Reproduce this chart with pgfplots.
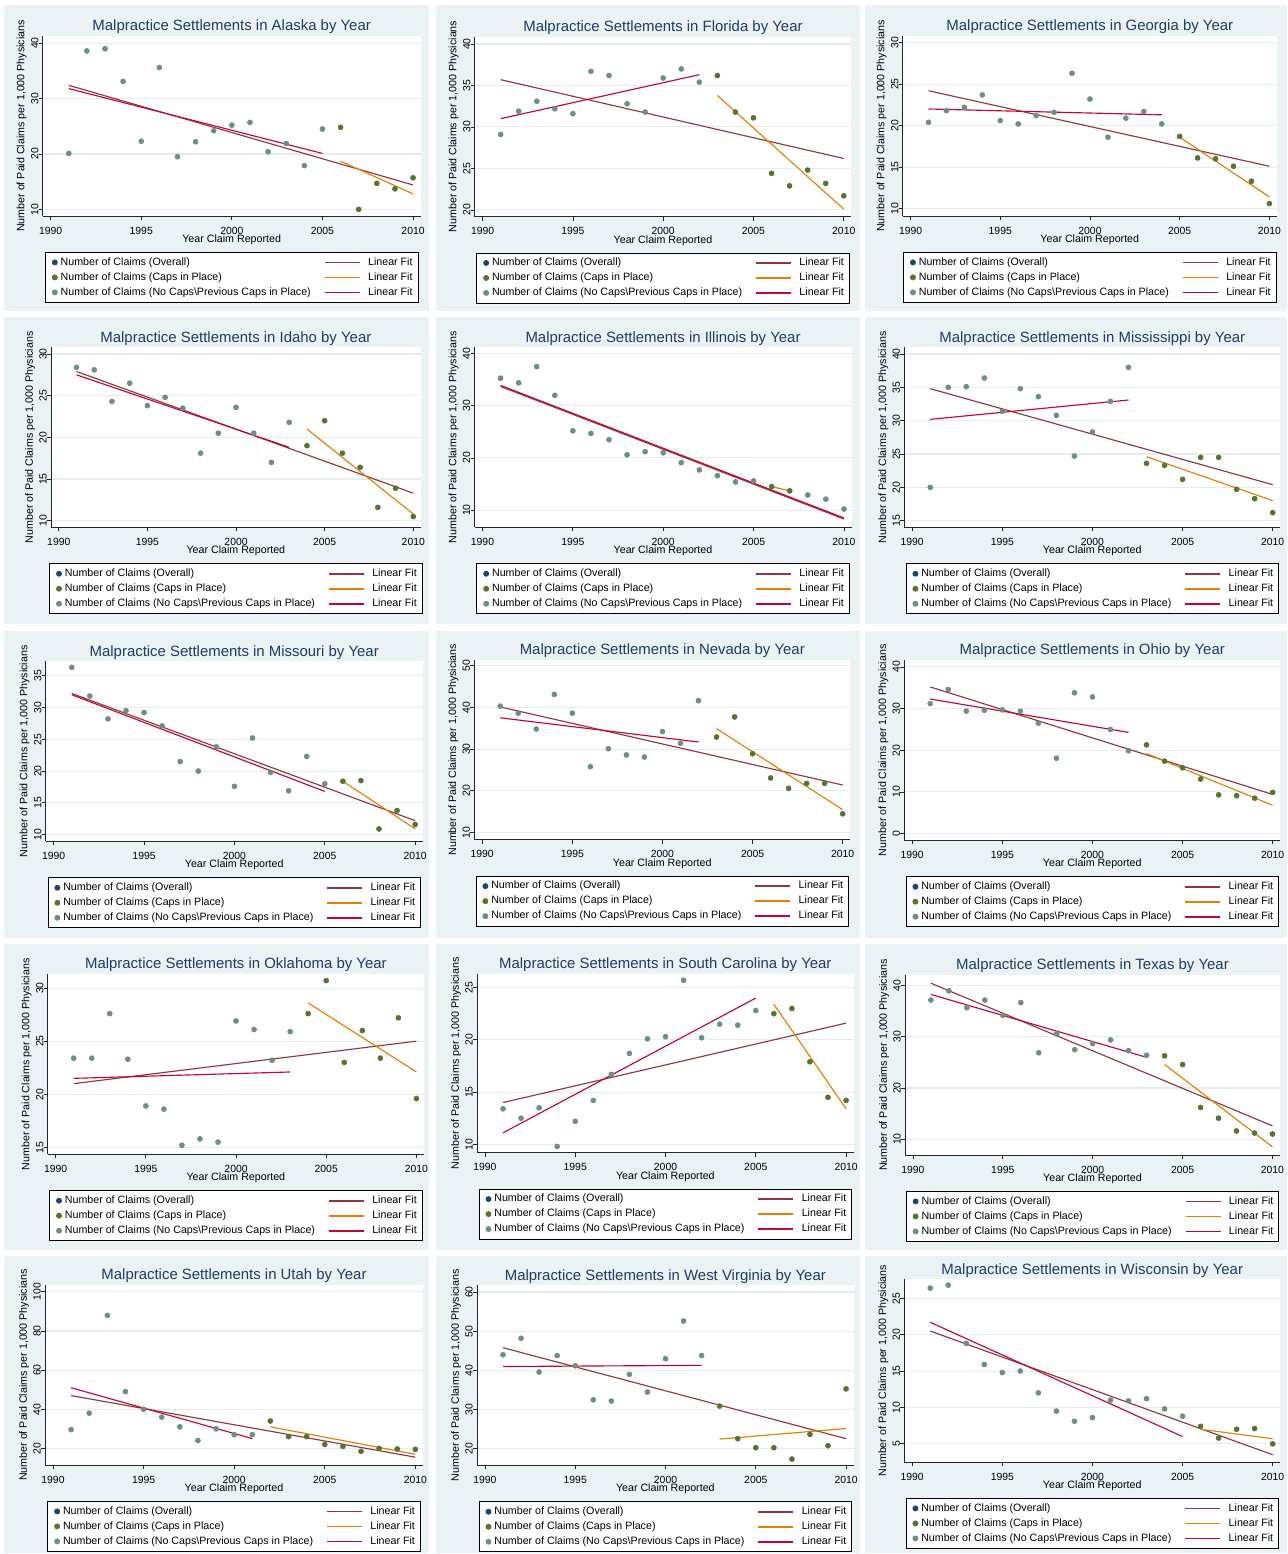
\documentclass[border=0pt]{standalone}
\usepackage{fontspec}
\setmainfont{Liberation Sans}
\usepackage{pgfplots}
\pgfplotsset{compat=1.18}
\definecolor{bgc}{HTML}{EAF2F3}
\definecolor{gridc}{HTML}{E4ECEE}
\definecolor{titlec}{HTML}{1F3B6B}
\definecolor{navyc}{RGB}{26,71,111}
\definecolor{maroonc}{RGB}{144,53,59}
\definecolor{forestc}{RGB}{85,117,47}
\definecolor{dkorangec}{RGB}{227,126,0}
\definecolor{tealc}{RGB}{110,142,132}
\definecolor{cranc}{RGB}{193,5,52}
\newcommand\titlefont{\fontsize{11.2}{13}\selectfont}
\newcommand\labfont{\fontsize{8}{9.6}\selectfont}
\newcommand\tickfont{\fontsize{7.8}{9.4}\selectfont}
\newcommand\legfont{\fontsize{8}{9.6}\selectfont}
\pgfplotsset{
 panel/.style={
  scale only axis, anchor=south west,
  xmin=1989.56, xmax=2010.42,
  xtick={1990,1995,2000,2005,2010},
  axis x line*=bottom, axis y line*=left,
  axis line style={-, draw=black!85, line width=0.6pt},
  tick align=outside, major tick length=3pt,
  tick style={draw=black!85, line width=0.6pt},
  ymajorgrids, grid style={draw=gridc, line width=0.8pt},
  axis background/.style={fill=white},
  /pgf/number format/assume math mode=true,
  /pgf/number format/set thousands separator={},
  xticklabel style={font=\tickfont, anchor=base, yshift=-10.5pt, inner sep=0pt},
  yticklabel style={font=\tickfont, xshift=-0.3pt, rotate=90, anchor=base, inner sep=0pt},
  every axis title/.style={at={(axis description cs:0.5,1)}, anchor=base, yshift=4pt, font=\titlefont, text=titlec},
  xlabel={Year Claim Reported},
  every axis x label/.style={at={(axis description cs:0.5,0)}, anchor=base, yshift=-19.9pt, font=\labfont},
  ylabel={Number of Paid Claims per 1,000 Physicians},
  every axis y label/.style={at={([xshift=-15.75pt]axis description cs:0,0.5)}, rotate=90, anchor=center, font=\labfont},
  legend columns=2, legend cell align=left,
  legend style={at={(axis description cs:0.5,0)}, anchor=north, yshift=-27pt, draw=black, line width=0.6pt, fill=white, font=\legfont, inner xsep=1.5pt, inner ysep=3.25pt, row sep=2.75pt, nodes={inner xsep=2.5pt, inner ysep=0.5pt, text height=5.8pt, text depth=1.7pt}, /tikz/column 2/.style={column sep=7.3pt}},
 },
 ptO/.style={only marks, mark=*, mark size=1.9pt, color=navyc, legend image code/.code={\path (-5.25pt,0pt); \draw plot coordinates {(0pt,0pt)};}},
 ptC/.style={only marks, mark=*, mark size=1.9pt, color=forestc, legend image code/.code={\path (-5.25pt,0pt); \draw plot coordinates {(0pt,0pt)};}},
 ptN/.style={only marks, mark=*, mark size=1.9pt, color=tealc, legend image code/.code={\path (-5.25pt,0pt); \draw plot coordinates {(0pt,0pt)};}},
 fitO/.style={no marks, color=maroonc, line width=0.85pt, legend image code/.code={\draw[maroonc, line width=1.25pt] (0pt,0pt)--(26.25pt,0pt); \path (29.6pt,0pt);}},
 fitC/.style={no marks, color=dkorangec, line width=0.85pt, legend image code/.code={\draw[dkorangec, line width=1.25pt] (0pt,0pt)--(26.25pt,0pt); \path (29.6pt,0pt);}},
 fitN/.style={no marks, color=cranc, line width=0.85pt, legend image code/.code={\draw[cranc, line width=1.25pt] (0pt,0pt)--(26.25pt,0pt); \path (29.6pt,0pt);}},
}
\newcommand\LO{\addlegendimage{ptO}\addlegendentry{Number of Claims (Overall)}}
\newcommand\LFO{\addlegendentry{Linear Fit}}
\newcommand\LC{\addlegendentry{Number of Claims (Caps in Place)}}
\newcommand\LN{\addlegendentry{Number of Claims (No Caps\textbackslash Previous Caps in Place)}}
\begin{document}
\begin{tikzpicture}
\path[use as bounding box] (0,0) rectangle (966pt,-1165.5pt);
\fill[white] (0,0) rectangle (966pt,-1165.5pt);
\foreach \xa/\xb in {3/321.75, 327/645, 648.75/965.25}{
 \foreach \ya/\yb in {3.75/233.25, 237.75/468, 473.25/703.5, 708/937.5, 942/1164.75}{
  \fill[bgc] (\xa pt,-\ya pt) rectangle (\xb pt,-\yb pt);
 }
}
% 1 Alaska
\begin{axis}[panel, at={(32pt,-162pt)}, width=283.5pt, height=135pt, ymin=8.8, ymax=41.3, ytick={10,20,30,40}, title={Malpractice Settlements in Alaska by Year}]
\LO
\addplot[fitO] coordinates {(1991,32.4) (2010,14.4)}; \LFO
\addplot[ptC] coordinates {(2006,24.8) (2007,10.0) (2008,14.7) (2009,13.7) (2010,15.7)}; \LC
\addplot[fitC] coordinates {(2006,18.7) (2010,12.8)}; \LFO
\addplot[ptN] coordinates {(1991,20.1) (1992,38.6) (1993,39.0) (1994,33.1) (1995,22.3) (1996,35.6) (1997,19.5) (1998,22.2) (1999,24.2) (2000,25.2) (2001,25.7) (2002,20.4) (2003,21.9) (2004,17.9) (2005,24.5)}; \LN
\addplot[fitN] coordinates {(1991,31.8) (2005,20.1)}; \LFO
\end{axis}
% 2 Florida
\begin{axis}[panel, at={(356pt,-162.4pt)}, width=282.5pt, height=135pt, ymin=19.2, ymax=40.9, ytick={20,25,30,35,40}, title={Malpractice Settlements in Florida by Year}]
\LO
\addplot[fitO] coordinates {(1991,35.7) (2010,26.2)}; \LFO
\addplot[ptC] coordinates {(2003,36.2) (2004,31.8) (2005,31.1) (2006,24.4) (2007,22.9) (2008,24.8) (2009,23.2) (2010,21.7)}; \LC
\addplot[fitC] coordinates {(2003,33.8) (2010,20.1)}; \LFO
\addplot[ptN] coordinates {(1991,29.1) (1992,31.9) (1993,33.1) (1994,32.2) (1995,31.6) (1996,36.7) (1997,36.2) (1998,32.8) (1999,31.8) (2000,35.9) (2001,37.0) (2002,35.4)}; \LN
\addplot[fitN] coordinates {(1991,31.0) (2002,36.3)}; \LFO
\end{axis}
% 3 Georgia
\begin{axis}[panel, at={(677pt,-162pt)}, width=280.7pt, height=135pt, ymin=9.1, ymax=30.8, ytick={10,15,20,25,30}, title={Malpractice Settlements in Georgia by Year}]
\LO
\addplot[fitO] coordinates {(1991,24.2) (2010,15.1)}; \LFO
\addplot[ptC] coordinates {(2005,18.7) (2006,16.1) (2007,16.0) (2008,15.1) (2009,13.3) (2010,10.6)}; \LC
\addplot[fitC] coordinates {(2005,18.6) (2010,11.4)}; \LFO
\addplot[ptN] coordinates {(1991,20.4) (1992,21.8) (1993,22.2) (1994,23.7) (1995,20.6) (1996,20.2) (1997,21.2) (1998,21.6) (1999,26.3) (2000,23.2) (2001,18.6) (2002,20.9) (2003,21.7) (2004,20.2)}; \LN
\addplot[fitN] coordinates {(1991,22.0) (2004,21.3)}; \LFO
\end{axis}
% 4 Idaho
\begin{axis}[panel, at={(38.25pt,-395.5pt)}, width=277.3pt, height=135pt, ymin=9.2, ymax=30.8, ytick={10,15,20,25,30}, title={Malpractice Settlements in Idaho by Year}]
\LO
\addplot[fitO] coordinates {(1991,27.9) (2010,13.3)}; \LFO
\addplot[ptC] coordinates {(2004,19.0) (2005,22.0) (2006,18.1) (2007,16.4) (2008,11.6) (2009,13.9) (2010,10.5)}; \LC
\addplot[fitC] coordinates {(2004,21.0) (2010,10.8)}; \LFO
\addplot[ptN] coordinates {(1991,28.4) (1992,28.1) (1993,24.3) (1994,26.5) (1995,23.8) (1996,24.8) (1997,23.5) (1998,18.1) (1999,20.5) (2000,23.6) (2001,20.5) (2002,17.0) (2003,21.8)}; \LN
\addplot[fitN] coordinates {(1991,27.5) (2003,18.8)}; \LFO
\end{axis}
% 5 Illinois
\begin{axis}[panel, at={(355.9pt,-395.5pt)}, width=282.75pt, height=135pt, ymin=6.7, ymax=41.2, ytick={10,20,30,40}, title={Malpractice Settlements in Illinois by Year}]
\LO
\addplot[fitO] coordinates {(1991,33.7) (2010,8.3)}; \LFO
\addplot[ptC] coordinates {(2006,14.5) (2007,13.7)}; \LC
\addplot[fitC] coordinates {(2006,14.5) (2007,13.7)}; \LFO
\addplot[ptN] coordinates {(1991,35.3) (1992,34.4) (1993,37.5) (1994,32.0) (1995,25.2) (1996,24.7) (1997,23.5) (1998,20.6) (1999,21.2) (2000,21.0) (2001,19.1) (2002,17.7) (2003,16.6) (2004,15.4) (2005,15.6) (2008,12.9) (2009,12.1) (2010,10.2)}; \LN
\addplot[fitN] coordinates {(1991,33.9) (2010,8.5)}; \LFO
\end{axis}
% 6 Mississippi
\begin{axis}[panel, at={(678.2pt,-395.5pt)}, width=282pt, height=135pt, ymin=14, ymax=41, ytick={15,20,25,30,35,40}, title={Malpractice Settlements in Mississippi by Year}]
\LO
\addplot[fitO] coordinates {(1991,34.8) (2010,20.4)}; \LFO
\addplot[ptC] coordinates {(2003,23.6) (2004,23.3) (2005,21.2) (2006,24.5) (2007,24.5) (2008,19.7) (2009,18.3) (2010,16.2)}; \LC
\addplot[fitC] coordinates {(2003,24.6) (2010,18.0)}; \LFO
\addplot[ptN] coordinates {(1991,20.0) (1992,35.0) (1993,35.1) (1994,36.4) (1995,31.4) (1996,34.8) (1997,33.6) (1998,30.8) (1999,24.7) (2000,28.3) (2001,32.9) (2002,38.0)}; \LN
\addplot[fitN] coordinates {(1991,30.2) (2002,33.1)}; \LFO
\end{axis}
% 7 Missouri
\begin{axis}[panel, at={(34.3pt,-631pt)}, width=282.75pt, height=135pt, ymin=8.95, ymax=37.25, ytick={10,15,20,25,30,35}, title={Malpractice Settlements in Missouri by Year}]
\LO
\addplot[fitO] coordinates {(1991,32.2) (2010,12.2)}; \LFO
\addplot[ptC] coordinates {(2006,18.4) (2007,18.5) (2008,10.9) (2009,13.8) (2010,11.6)}; \LC
\addplot[fitC] coordinates {(2006,18.4) (2010,10.9)}; \LFO
\addplot[ptN] coordinates {(1991,36.3) (1992,31.8) (1993,28.2) (1994,29.5) (1995,29.2) (1996,27.1) (1997,21.5) (1998,20.0) (1999,23.8) (2000,17.6) (2001,25.2) (2002,19.8) (2003,16.9) (2004,22.3) (2005,18.0)}; \LN
\addplot[fitN] coordinates {(1991,32.0) (2005,16.8)}; \LFO
\end{axis}
% 8 Nevada
\begin{axis}[panel, at={(355.7pt,-629.8pt)}, width=282pt, height=135pt, ymin=8.3, ymax=51.4, ytick={10,20,30,40,50}, title={Malpractice Settlements in Nevada by Year}]
\LO
\addplot[fitO] coordinates {(1991,40.1) (2010,21.4)}; \LFO
\addplot[ptC] coordinates {(2003,32.9) (2004,37.7) (2005,28.9) (2006,23.1) (2007,20.6) (2008,21.8) (2009,21.8) (2010,14.5)}; \LC
\addplot[fitC] coordinates {(2003,34.9) (2010,15.5)}; \LFO
\addplot[ptN] coordinates {(1991,40.3) (1992,38.6) (1993,34.8) (1994,43.1) (1995,38.6) (1996,25.8) (1997,30.1) (1998,28.6) (1999,28.1) (2000,34.2) (2001,31.4) (2002,41.6)}; \LN
\addplot[fitN] coordinates {(1991,37.5) (2002,31.7)}; \LFO
\end{axis}
% 9 Ohio
\begin{axis}[panel, at={(678.2pt,-630.2pt)}, width=282pt, height=135pt, ymin=-1.6, ymax=41.6, ytick={0,10,20,30,40}, title={Malpractice Settlements in Ohio by Year}]
\LO
\addplot[fitO] coordinates {(1991,35.2) (2010,9.4)}; \LFO
\addplot[ptC] coordinates {(2003,21.3) (2004,17.4) (2005,15.8) (2006,13.1) (2007,9.3) (2008,9.1) (2009,8.5) (2010,9.9)}; \LC
\addplot[fitC] coordinates {(2003,19.2) (2010,6.8)}; \LFO
\addplot[ptN] coordinates {(1991,31.2) (1992,34.6) (1993,29.4) (1994,29.6) (1995,29.7) (1996,29.4) (1997,26.5) (1998,18.1) (1999,33.8) (2000,32.8) (2001,25.0) (2002,19.9)}; \LN
\addplot[fitN] coordinates {(1991,32.3) (2002,24.3)}; \LFO
\end{axis}
% 10 Oklahoma
\begin{axis}[panel, at={(35.8pt,-865.7pt)}, width=282.2pt, height=135pt, ymin=14.35, ymax=31.3, ytick={15,20,25,30}, title={Malpractice Settlements in Oklahoma by Year}]
\LO
\addplot[fitO] coordinates {(1991,21.0) (2010,25.0)}; \LFO
\addplot[ptC] coordinates {(2004,27.6) (2005,30.7) (2006,23.0) (2007,26.0) (2008,23.4) (2009,27.2) (2010,19.6)}; \LC
\addplot[fitC] coordinates {(2004,28.6) (2010,22.1)}; \LFO
\addplot[ptN] coordinates {(1991,23.4) (1992,23.4) (1993,27.6) (1994,23.3) (1995,18.9) (1996,18.6) (1997,15.2) (1998,15.8) (1999,15.5) (2000,26.9) (2001,26.1) (2002,23.2) (2003,25.9)}; \LN
\addplot[fitN] coordinates {(1991,21.5) (2003,22.1)}; \LFO
\end{axis}
% 11 South Carolina
\begin{axis}[panel, at={(357.75pt,-864.5pt)}, width=282.5pt, height=134pt, ymin=9.2, ymax=26.3, ytick={10,15,20,25}, title={Malpractice Settlements in South Carolina by Year}]
\LO
\addplot[fitO] coordinates {(1991,14.0) (2010,21.6)}; \LFO
\addplot[ptC] coordinates {(2006,22.5) (2007,23.0) (2008,17.9) (2009,14.5) (2010,14.2)}; \LC
\addplot[fitC] coordinates {(2006,23.4) (2010,13.4)}; \LFO
\addplot[ptN] coordinates {(1991,13.4) (1992,12.5) (1993,13.5) (1994,9.8) (1995,12.2) (1996,14.2) (1997,16.7) (1998,18.7) (1999,20.1) (2000,20.3) (2001,25.7) (2002,20.2) (2003,21.5) (2004,21.4) (2005,22.8)}; \LN
\addplot[fitN] coordinates {(1991,11.1) (2005,24.0)}; \LFO
\end{axis}
% 12 Texas
\begin{axis}[panel, at={(678.75pt,-866.25pt)}, width=281.25pt, height=135pt, ymin=6.9, ymax=42.1, ytick={10,20,30,40}, title={Malpractice Settlements in Texas by Year}]
\LO
\addplot[fitO] coordinates {(1991,40.5) (2010,12.6)}; \LFO
\addplot[ptC] coordinates {(2004,26.3) (2005,24.6) (2006,16.2) (2007,14.1) (2008,11.6) (2009,11.2) (2010,11.0)}; \LC
\addplot[fitC] coordinates {(2004,24.6) (2010,8.5)}; \LFO
\addplot[ptN] coordinates {(1991,37.2) (1992,39.0) (1993,35.7) (1994,37.2) (1995,34.2) (1996,36.7) (1997,26.9) (1998,30.6) (1999,27.5) (2000,28.7) (2001,29.4) (2002,27.3) (2003,26.4)}; \LN
\addplot[fitN] coordinates {(1991,38.3) (2003,26.0)}; \LFO
\end{axis}
% 13 Utah
\begin{axis}[panel, at={(33.75pt,-1098.75pt)}, width=283.5pt, height=135pt, ymin=11.5, ymax=103.5, ytick={20,40,60,80,100}, title={Malpractice Settlements in Utah by Year}]
\LO
\addplot[fitO] coordinates {(1991,47.0) (2010,15.5)}; \LFO
\addplot[ptC] coordinates {(2002,34.0) (2003,26.0) (2004,26.0) (2005,22.0) (2006,21.0) (2007,18.5) (2008,20.0) (2009,19.7) (2010,19.5)}; \LC
\addplot[fitC] coordinates {(2002,31.0) (2010,17.0)}; \LFO
\addplot[ptN] coordinates {(1991,29.6) (1992,38.0) (1993,88.0) (1994,49.0) (1995,40.0) (1996,36.0) (1997,31.0) (1998,24.0) (1999,30.0) (2000,27.0) (2001,27.0)}; \LN
\addplot[fitN] coordinates {(1991,51.0) (2001,25.0)}; \LFO
\end{axis}
% 14 West Virginia
\begin{axis}[panel, at={(357.75pt,-1099pt)}, width=282.5pt, height=135pt, ymin=15.8, ymax=61.7, ytick={20,30,40,50,60}, title={Malpractice Settlements in West Virginia by Year}]
\LO
\addplot[fitO] coordinates {(1991,45.8) (2010,22.6)}; \LFO
\addplot[ptC] coordinates {(2003,30.9) (2004,22.6) (2005,20.3) (2006,20.3) (2007,17.4) (2008,23.7) (2009,20.8) (2010,35.3)}; \LC
\addplot[fitC] coordinates {(2003,22.5) (2010,25.2)}; \LFO
\addplot[ptN] coordinates {(1991,44.0) (1992,48.2) (1993,39.6) (1994,43.8) (1995,41.2) (1996,32.5) (1997,32.2) (1998,39.0) (1999,34.5) (2000,43.0) (2001,52.6) (2002,43.8)}; \LN
\addplot[fitN] coordinates {(1991,41.0) (2002,41.3)}; \LFO
\end{axis}
% 15 Wisconsin
\begin{axis}[panel, at={(678.2pt,-1096.5pt)}, width=282pt, height=137pt, ymin=2.5, ymax=27.6, ytick={5,10,15,20,25}, title={Malpractice Settlements in Wisconsin by Year}]
\LO
\addplot[fitO] coordinates {(1991,20.5) (2010,3.5)}; \LFO
\addplot[ptC] coordinates {(2006,7.4) (2007,5.8) (2008,7.0) (2009,7.1) (2010,5.0)}; \LC
\addplot[fitC] coordinates {(2006,7.0) (2010,5.7)}; \LFO
\addplot[ptN] coordinates {(1991,26.4) (1992,26.8) (1993,18.8) (1994,15.9) (1995,14.8) (1996,15.0) (1997,12.0) (1998,9.5) (1999,8.1) (2000,8.6) (2001,11.0) (2002,10.9) (2003,11.2) (2004,9.8) (2005,8.8)}; \LN
\addplot[fitN] coordinates {(1991,21.7) (2005,6.0)}; \LFO
\end{axis}
\end{tikzpicture}
\end{document}
